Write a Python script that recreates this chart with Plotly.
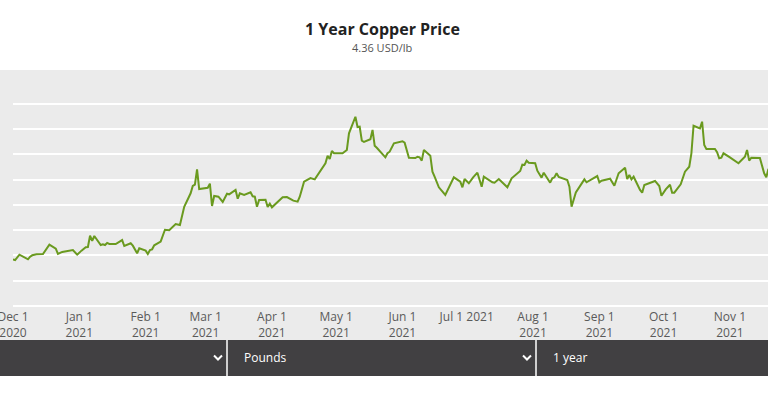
import plotly.graph_objects as go

# ---------------- data ----------------
dates = [
    "2020-12-01", "2020-12-02", "2020-12-04", "2020-12-06", "2020-12-08", "2020-12-09", "2020-12-10",
    "2020-12-12", "2020-12-15", "2020-12-18", "2020-12-21", "2020-12-22", "2020-12-24", "2020-12-29",
    "2020-12-31",
    "2021-01-02", "2021-01-04", "2021-01-05", "2021-01-06", "2021-01-07", "2021-01-08", "2021-01-11",
    "2021-01-12", "2021-01-13", "2021-01-14", "2021-01-15", "2021-01-18", "2021-01-21", "2021-01-22",
    "2021-01-25", "2021-01-26", "2021-01-28", "2021-01-29",
    "2021-02-01", "2021-02-02", "2021-02-03", "2021-02-04", "2021-02-05", "2021-02-08", "2021-02-10",
    "2021-02-12", "2021-02-15", "2021-02-16", "2021-02-17", "2021-02-19", "2021-02-20", "2021-02-22",
    "2021-02-23", "2021-02-24", "2021-02-25", "2021-02-26",
    "2021-03-02", "2021-03-03", "2021-03-04", "2021-03-05", "2021-03-07", "2021-03-09", "2021-03-11",
    "2021-03-12", "2021-03-15", "2021-03-16", "2021-03-17", "2021-03-19", "2021-03-22", "2021-03-23",
    "2021-03-24", "2021-03-25", "2021-03-26", "2021-03-29", "2021-03-30", "2021-03-31",
    "2021-04-01", "2021-04-06", "2021-04-08", "2021-04-11", "2021-04-13", "2021-04-14", "2021-04-16",
    "2021-04-19", "2021-04-21", "2021-04-23", "2021-04-26", "2021-04-27", "2021-04-28", "2021-04-29",
    "2021-04-30",
    "2021-05-04", "2021-05-06", "2021-05-07", "2021-05-10", "2021-05-11", "2021-05-12", "2021-05-13",
    "2021-05-14", "2021-05-17", "2021-05-18", "2021-05-19", "2021-05-20", "2021-05-24", "2021-05-25",
    "2021-05-26", "2021-05-28",
    "2021-06-01", "2021-06-02", "2021-06-04", "2021-06-07", "2021-06-08", "2021-06-09", "2021-06-10",
    "2021-06-11", "2021-06-14", "2021-06-15", "2021-06-16", "2021-06-18", "2021-06-21", "2021-06-23",
    "2021-06-25", "2021-06-28", "2021-06-29", "2021-06-30",
    "2021-07-02", "2021-07-04", "2021-07-06", "2021-07-08", "2021-07-09", "2021-07-13", "2021-07-14",
    "2021-07-16", "2021-07-20", "2021-07-22", "2021-07-26", "2021-07-27", "2021-07-28", "2021-07-29",
    "2021-07-30",
    "2021-08-02", "2021-08-03", "2021-08-05", "2021-08-06", "2021-08-09", "2021-08-10", "2021-08-11",
    "2021-08-12", "2021-08-13", "2021-08-17", "2021-08-18", "2021-08-19", "2021-08-21", "2021-08-24",
    "2021-08-25", "2021-08-26", "2021-08-31",
    "2021-09-01", "2021-09-02", "2021-09-06", "2021-09-08", "2021-09-10", "2021-09-13", "2021-09-14",
    "2021-09-15", "2021-09-16", "2021-09-17", "2021-09-20", "2021-09-21", "2021-09-22", "2021-09-24",
    "2021-09-27", "2021-09-29", "2021-09-30",
    "2021-10-02", "2021-10-04", "2021-10-05", "2021-10-06", "2021-10-09", "2021-10-11", "2021-10-13",
    "2021-10-14", "2021-10-15", "2021-10-18", "2021-10-19", "2021-10-20", "2021-10-21", "2021-10-25",
    "2021-10-26", "2021-10-27", "2021-10-28", "2021-10-29",
    "2021-11-01", "2021-11-03", "2021-11-05", "2021-11-08", "2021-11-09", "2021-11-10", "2021-11-11",
    "2021-11-15", "2021-11-17", "2021-11-18", "2021-11-19",
]

prices = [
    3.460, 3.453, 3.506, 3.483, 3.460, 3.486, 3.500, 3.510, 3.513, 3.605, 3.565, 3.513, 3.533, 3.552, 3.506,
    3.546, 3.579, 3.582, 3.694, 3.642, 3.691, 3.602, 3.609, 3.602, 3.622, 3.612, 3.612, 3.651, 3.592, 3.619,
    3.595, 3.520, 3.569,
    3.546, 3.513, 3.552, 3.559, 3.599, 3.635, 3.753, 3.748, 3.810, 3.807, 3.800, 3.981, 4.021, 4.114, 4.186,
    4.199, 4.351, 4.156,
    4.169, 4.209, 3.988, 4.087, 4.080, 4.028, 4.110, 4.104, 4.147, 4.060, 4.114, 4.097, 4.124, 4.084, 4.080,
    3.981, 4.048, 4.050, 3.978, 4.011,
    3.975, 4.074, 4.077, 4.041, 4.031, 4.080, 4.229, 4.265, 4.252, 4.312, 4.411, 4.486, 4.453, 4.533, 4.510,
    4.510, 4.543, 4.708, 4.872, 4.770, 4.773, 4.635, 4.622, 4.649, 4.741, 4.585, 4.565, 4.470, 4.510, 4.526,
    4.609,
    4.629, 4.615, 4.466, 4.463, 4.476, 4.470, 4.437, 4.543, 4.486, 4.328, 4.278, 4.173, 4.097, 4.179, 4.272,
    4.229, 4.173, 4.255,
    4.213, 4.272, 4.318, 4.179, 4.278, 4.223, 4.219, 4.255, 4.173, 4.262, 4.335, 4.397, 4.394, 4.437, 4.417,
    4.411, 4.338, 4.268, 4.318, 4.219, 4.262, 4.272, 4.312, 4.275, 4.246, 4.179, 3.981, 4.122, 4.213, 4.252,
    4.223, 4.285,
    4.223, 4.239, 4.258, 4.189, 4.312, 4.367, 4.255, 4.295, 4.252, 4.278, 4.147, 4.120, 4.196, 4.209, 4.236,
    4.186, 4.090,
    4.153, 4.199, 4.120, 4.120, 4.203, 4.328, 4.377, 4.510, 4.783, 4.757, 4.823, 4.592, 4.552, 4.552, 4.520,
    4.460, 4.466, 4.510,
    4.470, 4.444, 4.411, 4.476, 4.543, 4.437, 4.466, 4.463, 4.312, 4.272, 4.357,
]

tick_dates = [
    "2020-12-01", "2021-01-01", "2021-02-01", "2021-03-01", "2021-04-01", "2021-05-01",
    "2021-06-01", "2021-07-01", "2021-08-01", "2021-09-01", "2021-10-01", "2021-11-01",
]
tick_labels = [
    "Dec 1<br>2020", "Jan 1<br>2021", "Feb 1<br>2021", "Mar 1<br>2021", "Apr 1<br>2021", "May 1<br>2021",
    "Jun 1<br>2021", "Jul 1 2021", "Aug 1<br>2021", "Sep 1<br>2021", "Oct 1<br>2021", "Nov 1<br>2021",
]

title_text = "1 Year Copper Price"
subtitle_text = "4.36 USD/lb"
unit_label = "Pounds"
period_label = "1 year"

# ---------------- layout helpers (pixel -> paper) ----------------
W, H = 768, 420
L, T, B = 13, 82, 308


def pxx(px):
    return (px - L) / (W - L)


def pxy(py):
    return (B - py) / (B - T)


FONT = "Open Sans"
GRAY_BG = "#ebebeb"
DARK = "#414042"
GREEN = "#6a9a1f"

fig = go.Figure(
    go.Scatter(
        x=dates, y=prices, mode="lines",
        line=dict(color=GREEN, width=2),
        hoverinfo="skip", showlegend=False,
    )
)

shapes = [
    dict(type="rect", xref="paper", yref="paper", x0=pxx(0), x1=pxx(W), y0=pxy(340), y1=pxy(70),
         fillcolor=GRAY_BG, line=dict(width=0), layer="below"),
    dict(type="rect", xref="paper", yref="paper", x0=pxx(0), x1=pxx(W), y0=pxy(376), y1=pxy(340),
         fillcolor=DARK, line=dict(width=0), layer="above"),
]
for xd in (227, 536):
    shapes.append(dict(type="line", xref="paper", yref="paper", x0=pxx(xd), x1=pxx(xd),
                       y0=pxy(376), y1=pxy(340), line=dict(color="white", width=1.5), layer="above"))
for xc in (218, 527):
    path = "M {:.5f},{:.5f} L {:.5f},{:.5f} L {:.5f},{:.5f}".format(
        pxx(xc - 4), pxy(355.5), pxx(xc), pxy(359.5), pxx(xc + 4), pxy(355.5))
    shapes.append(dict(type="path", xref="paper", yref="paper", path=path,
                       line=dict(color="white", width=2), layer="above"))

annotations = [
    dict(text="<b>" + title_text + "</b>", xref="paper", yref="paper", x=pxx(382), y=pxy(29),
         xanchor="center", yanchor="middle", showarrow=False,
         font=dict(family=FONT, size=16, color="#222222")),
    dict(text=subtitle_text, xref="paper", yref="paper", x=pxx(382), y=pxy(47),
         xanchor="center", yanchor="middle", showarrow=False,
         font=dict(family=FONT, size=11, color="#555555")),
    dict(text=unit_label, xref="paper", yref="paper", x=pxx(242), y=pxy(357.5),
         xanchor="left", yanchor="middle", showarrow=False,
         font=dict(family=FONT, size=12, color="white")),
    dict(text=period_label, xref="paper", yref="paper", x=pxx(551), y=pxy(357.5),
         xanchor="left", yanchor="middle", showarrow=False,
         font=dict(family=FONT, size=12, color="white")),
]

fig.update_layout(
    width=W, height=H,
    margin=dict(l=L, r=0, t=T, b=H - B, pad=0, autoexpand=False),
    paper_bgcolor="white",
    plot_bgcolor=GRAY_BG,
    shapes=shapes,
    annotations=annotations,
    showlegend=False,
    xaxis=dict(
        type="date",
        range=["2020-12-01", "2021-11-18 19:00"],
        tickmode="array", tickvals=tick_dates, ticktext=tick_labels,
        showgrid=False, zeroline=False, showline=False, ticks="",
        tickfont=dict(family=FONT, size=12, color="#5a5a5a"),
        ticklabeloverflow="allow",
        automargin=False,
        fixedrange=True,
    ),
    yaxis=dict(
        range=[2.978, 5.216],
        tick0=0, dtick=0.25,
        showticklabels=False, ticks="",
        showgrid=True, gridcolor="white", gridwidth=1.5,
        zeroline=False, showline=False,
        automargin=False,
        fixedrange=True,
    ),
)

fig.write_html("out.html", config={"displayModeBar": False})
